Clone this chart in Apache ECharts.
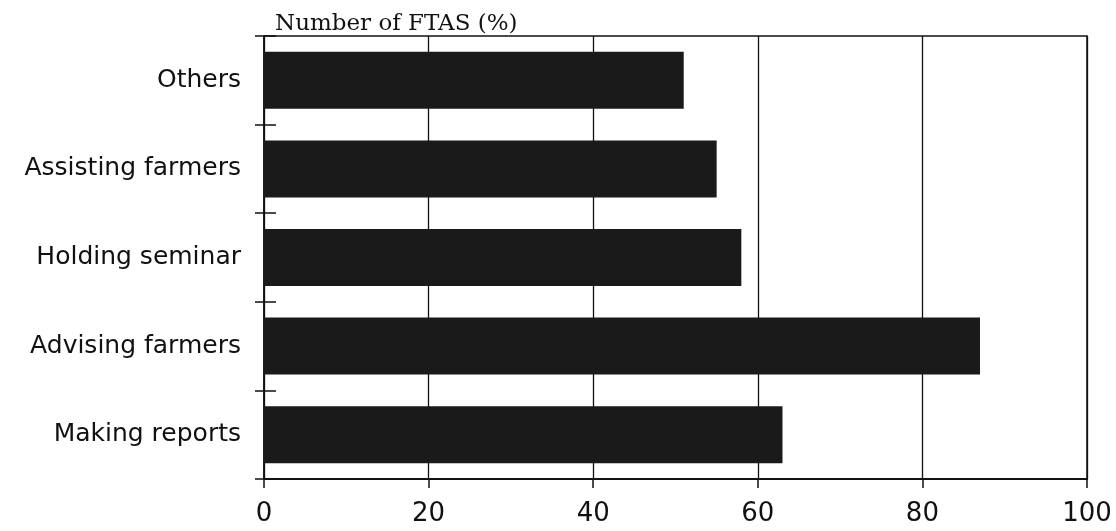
<!DOCTYPE html>
<html>
<head>
<meta charset="utf-8">
<script src="https://cdn.jsdelivr.net/npm/echarts@6/dist/echarts.min.js"></script>
<style>
html,body{margin:0;padding:0;background:#fff;}
#chart{width:1116px;height:531px;}
</style>
</head>
<body>
<div id="chart"></div>
<script>
// Data (bottom to top)
const categories = ['Making reports', 'Advising farmers', 'Holding seminar', 'Assisting farmers', 'Others'];
const values = [63, 87, 58, 55, 51];
const xTicks = [0, 20, 40, 60, 80, 100];
const axisTitle = 'Number of FTAS (%)';

const chart = echarts.init(document.getElementById('chart'), null, {renderer: 'canvas'});
chart.setOption({
  animation: false,
  backgroundColor: '#fff',
  title: {
    text: axisTitle,
    left: 270,
    top: 8,
    textStyle: {fontFamily: 'DejaVu Serif', fontSize: 23, fontWeight: 'normal', color: '#111'}
  },
  grid: {left: 264, right: 29, top: 36, bottom: 52, show: true, borderColor: '#111', borderWidth: 1.5, containLabel: false},
  xAxis: {
    type: 'value',
    min: xTicks[0],
    max: xTicks[xTicks.length - 1],
    interval: 20,
    axisLine: {show: true, lineStyle: {color: '#111', width: 2}},
    axisTick: {show: true, length: 9, lineStyle: {color: '#111', width: 1.5}},
    splitLine: {show: true, lineStyle: {color: '#111', width: 1.3}},
    axisLabel: {fontFamily: 'DejaVu Sans', fontSize: 26, color: '#111', margin: 22}
  },
  yAxis: [{
    type: 'category',
    data: categories,
    axisLine: {show: true, lineStyle: {color: '#111', width: 1.5}},
    axisTick: {show: true, length: 9, lineStyle: {color: '#111', width: 1.5}},
    axisLabel: {fontFamily: 'DejaVu Sans', fontSize: 25, color: '#111', margin: 23}
  }, {
    type: 'category',
    data: categories,
    position: 'left',
    axisLine: {show: false},
    axisTick: {show: true, inside: true, length: 12, lineStyle: {color: '#111', width: 1.5}},
    axisLabel: {show: false},
    splitLine: {show: false}
  }],
  series: [{
    type: 'bar',
    yAxisIndex: 0,
    data: values,
    barWidth: 57,
    itemStyle: {color: '#1a1a1a'}
  }]
});
</script>
</body>
</html>
